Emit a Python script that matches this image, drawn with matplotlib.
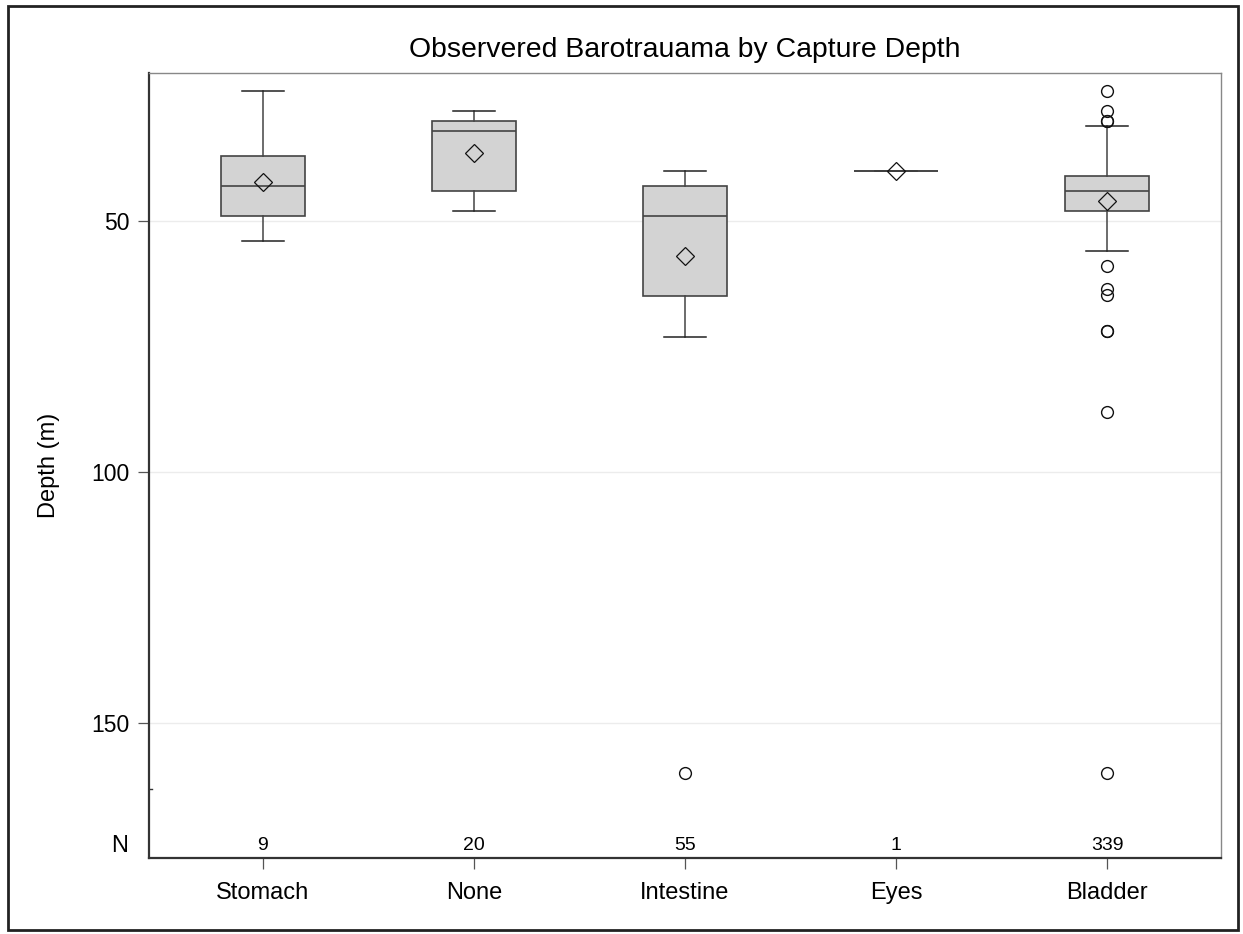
import matplotlib
matplotlib.use("Agg")
import matplotlib.pyplot as plt
from matplotlib.patches import Rectangle
from matplotlib.transforms import blended_transform_factory

plt.rcParams["font.family"] = ["Liberation Sans", "DejaVu Sans"]

# box statistics (depth in m)
categories = ["Stomach", "None", "Intestine", "Eyes", "Bladder"]
counts = [9, 20, 55, 1, 339]
q1 = [37.0, 30.0, 43.0, 40.0, 41.0]
medians = [43.0, 32.0, 49.0, 40.0, 44.0]
q3 = [49.0, 44.0, 65.0, 40.0, 48.0]
means = [42.3, 36.5, 57.0, 40.0, 46.0]
whisker_lo = [24.0, 28.0, 40.0, 40.0, 31.0]
whisker_hi = [54.0, 48.0, 73.0, 40.0, 56.0]
outliers = [
    [],
    [],
    [160.0],
    [],
    [24.0, 28.0, 30.0, 30.0, 59.0, 63.6, 64.7, 72.0, 72.0, 88.0, 160.0],
]

stats = []
for i, name in enumerate(categories):
    stats.append(
        {
            "label": name,
            "q1": q1[i],
            "med": medians[i],
            "q3": q3[i],
            "mean": means[i],
            "whislo": whisker_lo[i],
            "whishi": whisker_hi[i],
            "fliers": outliers[i],
        }
    )

W, H = 1243, 934
fig = plt.figure(figsize=(W / 100, H / 100), dpi=100)
fig.patch.set_facecolor("white")
ax = fig.add_axes([149 / W, 1 - 858 / H, (1221 - 149) / W, (858 - 73) / H])

positions = list(range(1, len(categories) + 1))
edge = "#444444"
ax.bxp(
    stats,
    positions=positions,
    widths=0.4,
    showmeans=True,
    patch_artist=True,
    boxprops={"facecolor": "#d3d3d3", "edgecolor": edge, "linewidth": 1.2},
    medianprops={"color": edge, "linewidth": 1.2},
    whiskerprops={"color": edge, "linewidth": 1.1},
    capprops={"color": "#222222", "linewidth": 1.1},
    meanprops={
        "marker": "D",
        "markerfacecolor": "none",
        "markeredgecolor": "#111111",
        "markersize": 9.5,
        "markeredgewidth": 0.9,
    },
    flierprops={
        "marker": "o",
        "markerfacecolor": "none",
        "markeredgecolor": "#111111",
        "markersize": 8.5,
        "markeredgewidth": 1.0,
    },
    zorder=3,
)

ax.set_xlim(0.46, 5.54)
ax.set_ylim(176.9, 20.5)
ax.set_yticks([50, 100, 150])
ax.set_xticks(positions)
ax.set_xticklabels(categories)
ax.grid(axis="y", color="#ececec", linewidth=1.0, zorder=0)
ax.set_axisbelow(True)

ax.tick_params(axis="y", labelsize=16.5, length=8, width=0.9, color="#555555", pad=6)
ax.tick_params(axis="x", labelsize=17, length=8, width=0.9, color="#555555", pad=9)

for side in ("left", "bottom"):
    ax.spines[side].set_color("#333333")
    ax.spines[side].set_linewidth(1.6)
for side in ("top", "right"):
    ax.spines[side].set_color("#888888")
    ax.spines[side].set_linewidth(1.0)

ax.set_ylabel("Depth (m)", fontsize=17)
ax.yaxis.set_label_coords(-0.083, 0.5)

# N row inset along the bottom of the axes
trans = blended_transform_factory(ax.transData, ax.transAxes)
for x, n in zip(positions, counts):
    ax.text(x, 0.0153, str(n), transform=trans, ha="center", va="center", fontsize=14)
ax.text(-0.0196, 0.0153, "N", transform=ax.transAxes, ha="right", va="center", fontsize=17)
ax.plot([0, 0.003], [0.0879, 0.0879], transform=ax.transAxes, color="#333333", linewidth=1.0, clip_on=False)

fig.text(685 / W, 1 - 57 / H, "Observered Barotrauama by Capture Depth", ha="center", va="baseline", fontsize=20.4)

fig.patches.append(
    Rectangle(
        (8 / W, 4 / H),
        (1238 - 8) / W,
        (929 - 5) / H,
        transform=fig.transFigure,
        fill=False,
        edgecolor="#222222",
        linewidth=2.0,
    )
)

fig.savefig("out.png", dpi=100)
